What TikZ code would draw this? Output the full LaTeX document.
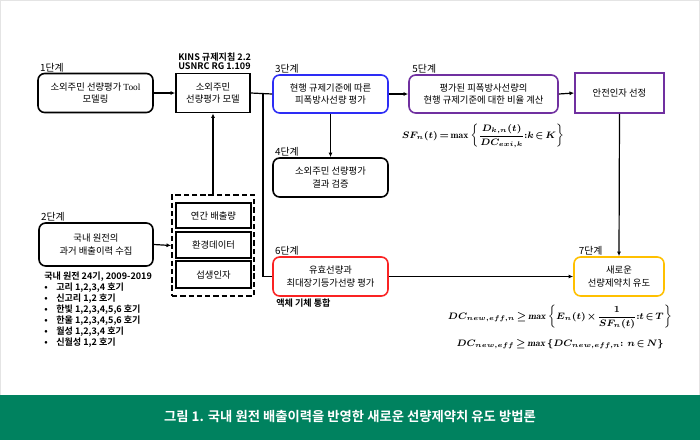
\documentclass[tikz,border=0pt]{standalone}
\usepackage{fontspec}
\usepackage{amsmath}
\usetikzlibrary{arrows.meta}
\newfontfamily\kr{Noto Sans CJK KR}[BoldFont={Noto Sans CJK KR Bold}]
\newfontfamily\tnr{Liberation Serif}
\definecolor{stepblue}{RGB}{45,45,245}
\definecolor{steppurple}{RGB}{112,48,160}
\definecolor{stepred}{RGB}{250,35,35}
\definecolor{stepgold}{RGB}{255,192,0}
\definecolor{bannergreen}{RGB}{0,130,95}
\definecolor{framegray}{RGB}{228,228,228}
\newcommand\tightmath{\thickmuskip=2.5mu\relax\medmuskip=1.5mu\relax}

\begin{document}
\begin{tikzpicture}[x=0.75pt,y=0.75pt,yscale=-1,xscale=1,
  box/.style={draw,line width=1.2pt,align=center,inner sep=1pt,font=\kr\fontsize{7}{9.5}\selectfont},
  rbox/.style={box,rounded corners=5pt},
  steplabel/.style={anchor=south west,inner sep=0.5pt,font=\kr\fontsize{7.4}{8}\selectfont},
  link/.style={line width=0.9pt,-{Latex[length=3.5pt,width=3pt]}},
  wire/.style={line width=0.9pt},
  eqn/.style={inner sep=0pt,font=\fontsize{7.2}{9}\selectfont\boldmath}]
\useasboundingbox (0,0) rectangle (700,440);
%frame and caption band
\draw [framegray] (0.5,0.5) rectangle (699.5,395);
\fill [bannergreen] (0,395) rectangle (700,440);
\draw (350,417) node (caption) [text=white,font=\kr\bfseries\fontsize{10}{12}\selectfont] {그림 1. 국내 원전 배출이력을 반영한 새로운 선량제약치 유도 방법론};

%Step boxes
\draw (95.5,93) node (s1) [rbox,minimum width=86.25pt,minimum height=29.25pt] {소외주민 선량평가 {\tnr Tool}\\모델링};
\draw (213,93) node (model) [box,minimum width=55.5pt,minimum height=29.25pt] {소외주민\\선량평가 모델};
\draw (330.5,94) node (s3) [rbox,stepblue,text=black,minimum width=86.25pt,minimum height=28.5pt] {현행 규제기준에 따른\\피폭방사선량 평가};
\draw (483.5,94) node (s5) [rbox,steppurple,text=black,minimum width=111.75pt,minimum height=28.5pt] {평가된 피폭방사선량의\\현행 규제기준에 대한 비율 계산};
\draw (619.5,93) node (safety) [box,steppurple,text=black,minimum width=66.75pt,minimum height=30pt] {안전인자 선정};
\draw (330.5,177.5) node (s4) [rbox,minimum width=86.25pt,minimum height=29.25pt] {소외주민 선량평가\\결과 검증};
\draw (96,244.5) node (s2) [rbox,minimum width=85.5pt,minimum height=32.25pt] {국내 원전의\\과거 배출이력 수집};
\draw (330.5,276.5) node (s6) [rbox,stepred,text=black,minimum width=86.25pt,minimum height=29.25pt] {유효선량과\\최대장기등가선량 평가};
\draw (619,276.5) node (s7) [rbox,stepgold,text=black,minimum width=67.5pt,minimum height=29.25pt] {새로운\\선량제약치 유도};

%Input data group
\draw (213,245.5) node (data) [draw,dashed,dash pattern=on 4pt off 2.2pt,line width=1.2pt,minimum width=61.5pt,minimum height=75.75pt] {};
\draw (213.5,215.5) node (annual) [box,line width=1.4pt,minimum width=56.25pt,minimum height=18.75pt] {연간 배출량};
\draw (213.5,245) node (envdata) [box,line width=1.4pt,minimum width=56.25pt,minimum height=19.5pt] {환경데이터};
\draw (213.5,274.5) node (intake) [box,line width=1.4pt,minimum width=56.25pt,minimum height=20.25pt] {섭생인자};

%Step labels
\draw ([xshift=1.5pt]s1.north west) node (l1) [steplabel] {1단계};
\draw ([xshift=1.5pt]s2.north west) node (l2) [steplabel] {2단계};
\draw ([xshift=1.5pt]s3.north west) node (l3) [steplabel] {3단계};
\draw ([xshift=1.5pt]s4.north west) node (l4) [steplabel] {4단계};
\draw ([xshift=2.5pt]s5.north west) node (l5) [steplabel] {5단계};
\draw ([xshift=1.5pt]s6.north west) node (l6) [steplabel] {6단계};
\draw ([xshift=3.5pt]s7.north west) node (l7) [steplabel] {7단계};

% Text Node
\draw (178,70) node (guide) [anchor=south west,align=left,inner sep=0pt,font=\kr\bfseries\fontsize{6.8}{7}\selectfont] {KINS 규제지침 2.2\\USNRC RG 1.109};
% Text Node
\draw (44,272) node (plants) [anchor=north west,align=left,inner sep=0pt,font=\kr\bfseries\fontsize{6.8}{8.2}\selectfont] {국내 원전 24기, 2009-2019\\
\makebox[9pt][l]{•}고리 1,2,3,4 호기\\
\makebox[9pt][l]{•}신고리 1,2 호기\\
\makebox[9pt][l]{•}한빛 1,2,3,4,5,6 호기\\
\makebox[9pt][l]{•}한울 1,2,3,4,5,6 호기\\
\makebox[9pt][l]{•}월성 1,2,3,4 호기\\
\makebox[9pt][l]{•}신월성 1,2 호기};
% Text Node
\draw (276,299) node (merge) [anchor=north west,inner sep=0pt,font=\kr\bfseries\fontsize{6.8}{8}\selectfont] {액체 기체 통합};

%Formulas
\draw (483,136) node (sfeq) [eqn] {$\tightmath\displaystyle SF_{n}(t)=\max\left\{\frac{D_{k,n}(t)}{DC_{exi,k}}\!:\!k\in K\right\}$};
\draw (560,317) node (dceq) [eqn] {$\tightmath\displaystyle DC_{new,eff,n}\geq \mathit{max}\left\{E_{n}(t)\times\frac{1}{SF_{n}(t)}\!:\!t\in T\right\}$};
\draw (560,344) node (dcall) [eqn] {$\tightmath DC_{new,eff}\geq \mathit{max}\left\{DC_{new,eff,n}\!:\,n\in N\right\}$};

%Connectors
\coordinate (split) at (263,93);
\draw [link] (s1.east) -- (model.west);
\draw [wire] (model.east) -- (s3.west);
\draw [wire] (split) |- (s6.west);
\draw [link] (s3.east) -- (s5.west);
\draw [link] (s5.east) -- (safety.west);
\draw [link] (s3.south) -- (s4.north);
\draw [link] (safety.south) -- (s7.north);
\draw [link] (s6.east) -- (s7.west);
\draw [link] (s2.east) -- (data.west);
\draw [link] (data.north) -- (model.south);

\end{tikzpicture}
\end{document}
